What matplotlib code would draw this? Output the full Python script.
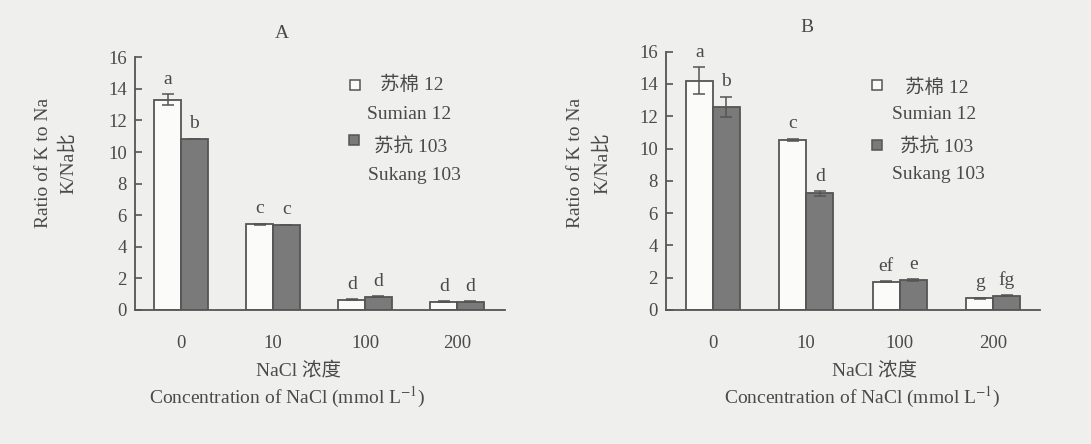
import matplotlib
matplotlib.use("Agg")
import matplotlib.pyplot as plt
import numpy as np

# K/Na ratio of two cotton cultivars under NaCl stress
conc = ["0", "10", "100", "200"]

# panel A
a_sumian = [13.3, 5.42, 0.64, 0.53]
a_sumian_err = [0.35, 0.04, 0.03, 0.03]
a_sukang = [10.85, 5.4, 0.84, 0.53]
a_sukang_err = [0.0, 0.0, 0.03, 0.03]
a_sumian_lett = ["a", "c", "d", "d"]
a_sukang_lett = ["b", "c", "d", "d"]

# panel B
b_sumian = [14.2, 10.53, 1.75, 0.72]
b_sumian_err = [0.85, 0.08, 0.04, 0.04]
b_sukang = [12.6, 7.22, 1.86, 0.89]
b_sukang_err = [0.62, 0.15, 0.04, 0.04]
b_sumian_lett = ["a", "c", "ef", "g"]
b_sukang_lett = ["b", "d", "e", "fg"]

plt.rcParams['font.family'] = ['Liberation Serif', 'Noto Sans CJK SC']
plt.rcParams['mathtext.fontset'] = 'stix'

bg = "#efefed"
ink = "#4a4a4a"
edge = "#555555"
dark = "#7a7a7a"
fs = 14

W, H = 1091, 444
fig = plt.figure(figsize=(W / 100, H / 100), dpi=100, facecolor=bg)


def px_axes(l, r, b, t):
    return fig.add_axes([l / W, 1 - b / H, (r - l) / W, (b - t) / H])


def draw_panel(ax, s1, e1, s2, e2, l1, l2, xmax, leg):
    x = np.arange(len(conc))
    w = 0.29
    ax.set_facecolor(bg)
    ax.bar(x - w / 2, s1, w, color="#fbfbfa", edgecolor=edge, linewidth=1.3, zorder=2)
    ax.bar(x + w / 2, s2, w, color=dark, edgecolor=edge, linewidth=1.3, zorder=2)
    ax.errorbar(x - w / 2, s1, yerr=e1, fmt="none", ecolor=edge, elinewidth=1.1,
                capsize=4, capthick=1.1, zorder=3)
    ax.errorbar(x + w / 2, s2, yerr=e2, fmt="none", ecolor=edge, elinewidth=1.1,
                capsize=4, capthick=1.1, zorder=3)
    for i in range(len(conc)):
        ax.text(x[i] - w / 2, s1[i] + e1[i] + 0.4, l1[i], ha="center", va="bottom",
                fontsize=fs, color=ink)
        ax.text(x[i] + w / 2, s2[i] + e2[i] + 0.4, l2[i], ha="center", va="bottom",
                fontsize=fs, color=ink)
    ax.set_xlim(-0.5, xmax)
    ax.set_ylim(0, 16)
    ax.set_yticks(range(0, 17, 2))
    ax.set_xticks(x)
    ax.set_xticklabels(conc)
    for s in ["top", "right"]:
        ax.spines[s].set_visible(False)
    for s in ["left", "bottom"]:
        ax.spines[s].set_color(edge)
        ax.spines[s].set_linewidth(1.3)
    ax.tick_params(axis="y", direction="in", length=5, width=1.2, color=edge,
                   labelsize=13.5, labelcolor=ink, pad=6)
    ax.tick_params(axis="x", length=0, labelsize=13.5, labelcolor=ink, pad=18)

    # legend built by hand
    sq1, t1, t2, sq2, t3, t4 = leg
    ax.plot(*sq1, marker="s", ms=7, mfc="#fbfbfa", mec=edge, mew=1.1,
            transform=ax.transAxes, clip_on=False)
    ax.plot(*sq2, marker="s", ms=7, mfc=dark, mec=edge, mew=1.1,
            transform=ax.transAxes, clip_on=False)
    ax.text(*t1, "苏棉 12", transform=ax.transAxes, fontsize=fs, color=ink, va="center")
    ax.text(*t2, "Sumian 12", transform=ax.transAxes, fontsize=fs, color=ink, va="center")
    ax.text(*t3, "苏抗 103", transform=ax.transAxes, fontsize=fs, color=ink, va="center")
    ax.text(*t4, "Sukang 103", transform=ax.transAxes, fontsize=fs, color=ink, va="center")


axA = px_axes(135, 505, 310, 57.3)
draw_panel(axA, a_sumian, a_sumian_err, a_sukang, a_sukang_err,
           a_sumian_lett, a_sukang_lett, 3.52,
           [(0.595, 0.890), (0.662, 0.890), (0.627, 0.772),
            (0.592, 0.673), (0.646, 0.641), (0.630, 0.534)])

axB = px_axes(666, 1040, 310, 51.7)
draw_panel(axB, b_sumian, b_sumian_err, b_sukang, b_sukang_err,
           b_sumian_lett, b_sukang_lett, 3.5,
           [(0.564, 0.871), (0.639, 0.859), (0.604, 0.755),
            (0.564, 0.639), (0.626, 0.627), (0.604, 0.523)])


def ftext(px, py, s, **kw):
    fig.text(px / W, 1 - py / H, s, color=ink, ha="center", va="center", **kw)


ftext(282, 33, "A", fontsize=fs)
ftext(807, 28, "B", fontsize=fs)

for xr, xk in [(43, 68), (575, 602)]:
    ftext(xr, 163, "Ratio of K to Na", fontsize=fs, rotation=90)
    ftext(xk, 163, "K/Na比", fontsize=fs, rotation=90)

for xn, xc in [(298, 287), (875, 862)]:
    ftext(xn, 370, "NaCl 浓度", fontsize=fs)
    ftext(xc, 397, "Concentration of NaCl (mmol L$^{-1}$)", fontsize=fs)

fig.savefig("out.png", dpi=100, facecolor=bg)
